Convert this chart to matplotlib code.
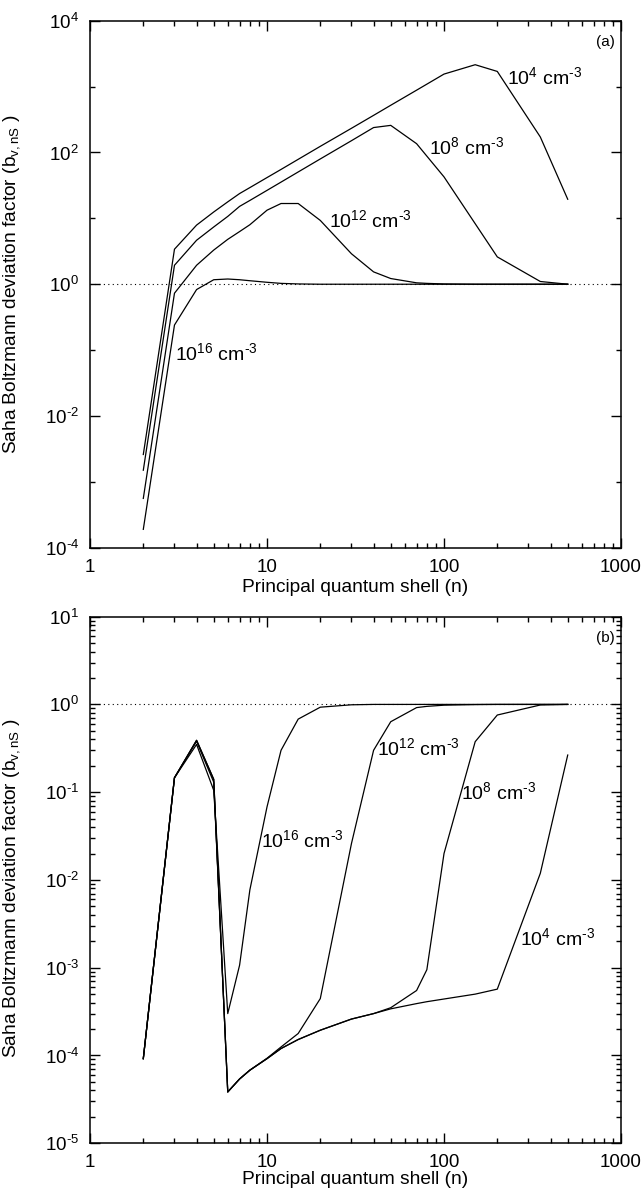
import matplotlib
matplotlib.use("Agg")
import matplotlib.pyplot as plt
from matplotlib.ticker import FixedLocator, NullFormatter, LogLocator, FixedFormatter, FuncFormatter
import numpy as np

plt.rcParams["font.family"] = ["Liberation Sans", "DejaVu Sans"]
plt.rcParams["mathtext.fontset"] = "custom"
plt.rcParams["mathtext.rm"] = "Liberation Sans"
plt.rcParams["mathtext.it"] = "Liberation Sans:italic"
plt.rcParams["mathtext.default"] = "regular"

# principal quantum shells
n = [2, 3, 4, 5, 6, 7, 8, 10, 12, 15, 20, 30, 40, 50, 70, 80, 100, 150, 200, 350, 500]
densities = ["4", "8", "12", "16"]

# panel (a)
b_a_4 = [2.6e-3, 3.4, 7.9, 12.5, 17.8, 23.8, 29.3, 41.6, 55.3, 78.7,
         124, 233, 366, 521, 883, 1090, 1550, 2150, 1700, 172, 19.5]
b_a_8 = [1.5e-3, 1.94, 4.65, 7.4, 10.7, 15.2, 18.7, 26.6, 35.5, 50.6,
         79.8, 151, 239, 258, 136, 88, 42.6, 8.3, 2.6, 1.1, 1.0]
b_a_12 = [5.6e-4, 0.73, 1.94, 3.3, 4.8, 6.3, 8.0, 13.3, 16.8, 16.8,
          9.3, 2.9, 1.54, 1.22, 1.05, 1.03, 1.01, 1.0, 1.0, 1.0, 1.0]
b_a_16 = [1.9e-4, 0.24, 0.83, 1.17, 1.2, 1.17, 1.13, 1.07, 1.03, 1.01,
          1.0, 1.0, 1.0, 1.0, 1.0, 1.0, 1.0, 1.0, 1.0, 1.0, 1.0]

# panel (b)
b_b_4 = [9.2e-5, 0.146, 0.39, 0.14, 3.84e-5, 5.4e-5, 6.8e-5, 9.2e-5, 1.2e-4, 1.52e-4,
         1.94e-4, 2.6e-4, 3.0e-4, 3.4e-4, 3.9e-4, 4.1e-4, 4.4e-4, 5.0e-4, 5.7e-4, 1.19e-2, 0.265]
b_b_8 = [9.2e-5, 0.146, 0.39, 0.14, 3.84e-5, 5.4e-5, 6.8e-5, 9.2e-5, 1.2e-4, 1.52e-4,
         1.94e-4, 2.6e-4, 3.0e-4, 3.5e-4, 5.5e-4, 9.5e-4, 2.0e-2, 0.376, 0.757, 0.985, 1.0]
b_b_12 = [9.2e-5, 0.146, 0.38, 0.13, 3.84e-5, 5.4e-5, 6.8e-5, 9.3e-5, 1.25e-4, 1.78e-4,
          4.45e-4, 2.6e-2, 0.30, 0.635, 0.92, 0.95, 0.98, 0.995, 1.0, 1.0, 1.0]
b_b_16 = [9.2e-5, 0.146, 0.35, 0.105, 3.0e-4, 1.07e-3, 7.7e-3, 6.8e-2, 0.30, 0.68,
          0.93, 0.99, 1.0, 1.0, 1.0, 1.0, 1.0, 1.0, 1.0, 1.0, 1.0]

# label anchors (n, b) for each density
labels_a = [(226, 1110), (82.6, 94), (22.5, 7.4), (3.02, 0.070)]
labels_b = [(270, 1.81e-3), (124, 0.0828), (41.8, 0.265), (9.2, 0.0238)]

x_ticks = [1, 10, 100, 1000]
x_ticklabels = ["1", "10", "100", "1000"]


def sup(s):
    # hyphen rather than a math minus, like the original plot
    s = s.replace("-", r"\text{-}")
    return "$^{%s}$" % s


def pow10(y, pos):
    e = int(round(np.log10(y)))
    return "10" + sup(str(e))


fig = plt.figure(figsize=(6.43, 11.99), dpi=100)
ax_a = fig.add_axes([0.140, 0.5432, 0.8258, 0.4395])
ax_b = fig.add_axes([0.140, 0.0465, 0.8258, 0.4392])

panels = [
    (ax_a, [b_a_4, b_a_8, b_a_12, b_a_16], labels_a, "(a)", (1e-4, 1e4), 0.5, 2),
    (ax_b, [b_b_4, b_b_8, b_b_12, b_b_16], labels_b, "(b)", (1e-5, 1e1), 0.485, 0),
]

for ax, series, labels, tag, ylim, ylab_y, xpad in panels:
    ax.axhline(1.0, color="black", lw=0.8, ls=(0, (1, 3)))
    for b, dens, (lx, ly) in zip(series, densities, labels):
        ax.plot(n, b, color="black", lw=0.9)
        ax.text(lx, ly, "10" + sup(dens) + " cm" + sup("-3"), fontsize=14,
                ha="left", va="baseline")
    ax.set_xscale("log")
    ax.set_yscale("log")
    ax.set_xlim(1, 1000)
    ax.set_ylim(*ylim)
    ax.xaxis.set_major_locator(FixedLocator(x_ticks))
    ax.xaxis.set_major_formatter(FixedFormatter(x_ticklabels))
    ax.xaxis.set_minor_locator(LogLocator(base=10, subs=range(2, 10)))
    ax.xaxis.set_minor_formatter(NullFormatter())
    ax.yaxis.set_major_formatter(FuncFormatter(pow10))
    ax.tick_params(which="both", direction="in", top=True, right=True,
                   labelsize=13.5, width=1.0)
    ax.tick_params(which="major", length=7, pad=8)
    ax.tick_params(which="minor", length=3.6)
    for sp in ax.spines.values():
        sp.set_linewidth(1.1)
    ax.text(0.988, 0.972, tag, transform=ax.transAxes, ha="right", va="top",
            fontsize=11)
    ax.set_xlabel("Principal quantum shell (n)", fontsize=13.8, labelpad=xpad)
    ax.set_ylabel("Saha Boltzmann deviation factor (b$_{v,nS}$ )", fontsize=13.8)
    ax.yaxis.set_label_coords(-0.129, ylab_y)

# panel (a): labelled every second decade, plain ticks in between
ax_a.yaxis.set_major_locator(FixedLocator([1e-4, 1e-2, 1e0, 1e2, 1e4]))
ax_a.yaxis.set_minor_locator(FixedLocator([1e-3, 1e-1, 1e1, 1e3]))
ax_a.yaxis.set_minor_formatter(NullFormatter())

# panel (b): every decade
ax_b.yaxis.set_major_locator(LogLocator(base=10, numticks=20))
ax_b.yaxis.set_minor_locator(LogLocator(base=10, subs=range(2, 10), numticks=20))
ax_b.yaxis.set_minor_formatter(NullFormatter())

fig.savefig("out.png", dpi=100)
